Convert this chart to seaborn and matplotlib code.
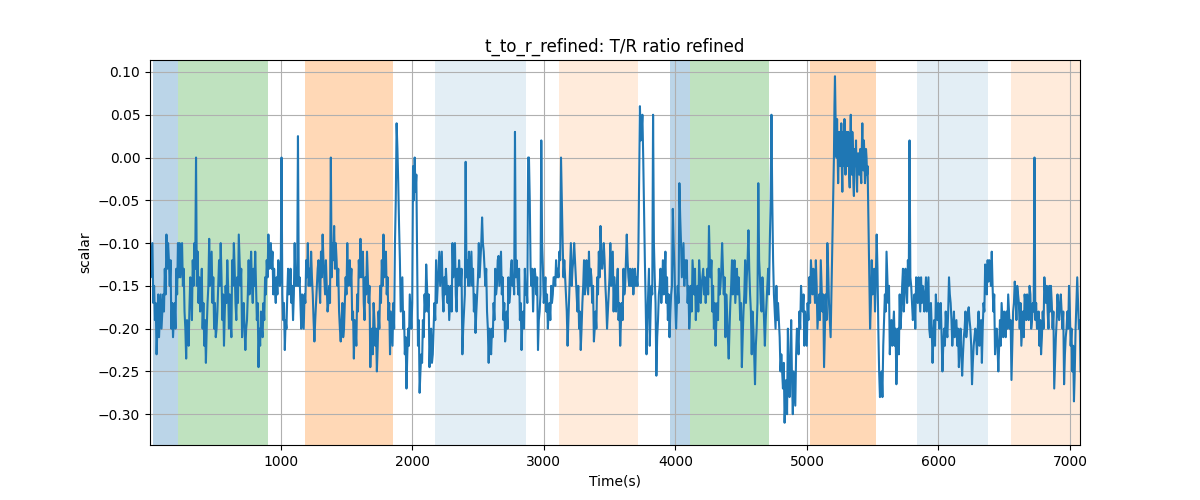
import numpy as np
import pandas as pd
import matplotlib
matplotlib.use("Agg")
import matplotlib.pyplot as plt
import seaborn as sns

# ---- data ----
# segment A: 5 .. 5180 s, main samples every 25 s
t_seg_a = np.arange(5, 5205, 25)
v_seg_a = [
    -0.09, -0.17, -0.23, -0.185, -0.16, -0.09, -0.15, -0.21, -0.13, -0.10,
    -0.15, -0.235, -0.175, -0.12, 0.0, -0.14, -0.2, -0.24, -0.095, -0.17,
    -0.21, -0.12, -0.19, -0.15, -0.2, -0.12, -0.17, -0.09, -0.21, -0.225,
    -0.12, -0.15, -0.11, -0.245, -0.2, -0.14, -0.09, -0.13, -0.155, -0.12,
    0.0, -0.225, -0.13, -0.17, -0.10, 0.025, -0.2, -0.16, -0.1,
    -0.11, -0.215, -0.13, -0.11, -0.14, -0.18, 0.0, -0.08, -0.15, -0.215,
    -0.2, -0.1, -0.15, -0.235, -0.16, -0.095, -0.17, -0.11, -0.245, -0.17,
    -0.25, -0.15, -0.09, -0.16, -0.23, -0.17, 0.04, -0.12, -0.2, -0.27,
    -0.16, -0.01, -0.02, -0.275, -0.19, -0.125, -0.245, -0.23, -0.12, -0.11,
    -0.16, -0.13, -0.19, -0.1, -0.16, -0.12, -0.23, -0.005,
    -0.11, -0.15, -0.205, -0.1, -0.07, -0.15, -0.24, -0.2, -0.13, -0.115,
    -0.16, -0.215, -0.14, -0.12, 0.03, -0.16, -0.225, -0.13, 0.0, -0.15,
    -0.13, -0.225, 0.02, -0.16, -0.2, -0.15, -0.14, -0.13, 0.0, -0.12,
    -0.22, -0.1, -0.1, -0.18, -0.225, -0.12, -0.14, -0.13, -0.215, -0.14,
    -0.08, -0.1, -0.2, -0.1, -0.18, -0.15, -0.22, -0.13, -0.09,
    -0.13, -0.16, -0.14, 0.06, 0.0, -0.23, -0.22, 0.05, -0.255, -0.15,
    -0.12, -0.17, -0.21, -0.06, -0.2, -0.03, -0.12, -0.14, -0.2, -0.12,
    -0.19, -0.12, -0.14, -0.17, -0.08, -0.18, -0.22, -0.13, -0.1, -0.21,
    -0.235, -0.12, -0.17, -0.14, -0.245, -0.12, -0.085, -0.23, -0.265, -0.03,
    -0.18, -0.22, -0.13, 0.05, -0.18, -0.17, -0.23, -0.31, -0.2,
    -0.19, -0.27, -0.21, -0.15, -0.22, -0.17, -0.12, -0.15, -0.2, -0.12,
    -0.245, -0.1, -0.21,
]
# segment A samples at +12.5 s
v_mid_a = [
    -0.12, -0.19, -0.16, -0.2, -0.13, -0.1, -0.2, -0.17, -0.1, -0.12,
    -0.18, -0.2, -0.16, -0.1, -0.11, -0.16, -0.22, -0.17, -0.13, -0.2,
    -0.18, -0.1, -0.22, -0.12, -0.19, -0.1, -0.14, -0.15, -0.17, -0.19,
    -0.14, -0.13, -0.19, -0.22, -0.17, -0.12, -0.11, -0.16, -0.14, -0.15,
    -0.19, -0.2, -0.15, -0.19, -0.13, -0.14, -0.18, -0.12, -0.13, -0.16,
    -0.17, -0.15, -0.09, -0.12, -0.15, -0.1, -0.1, -0.18, -0.17, -0.14,
    -0.13, -0.19, -0.2, -0.12, -0.13, -0.14, -0.17, -0.2, -0.22, -0.18,
    -0.12, -0.12, -0.19, -0.2, -0.1, -0.03, -0.16, -0.23, -0.2, -0.2,
    0.0, -0.22, -0.23, -0.16, -0.18, -0.2, -0.17, -0.15, -0.13, -0.14,
    -0.17, -0.15, -0.12, -0.13, -0.15, -0.18, -0.12, -0.13, -0.18, -0.16,
    -0.12, -0.11, -0.18, -0.22, -0.17, -0.15, -0.13, -0.19, -0.18, -0.16,
    -0.14, -0.12, -0.19, -0.18, -0.15, -0.05, -0.18, -0.16, -0.18, -0.13,
    -0.18, -0.17, -0.16, -0.12, -0.11, -0.1, -0.16, -0.16, -0.13, -0.14,
    -0.2, -0.17, -0.15, -0.11, -0.17, -0.18, -0.11, -0.13, -0.15, -0.16,
    -0.13, -0.16, -0.19, -0.17, -0.15, -0.14, -0.15, -0.13, -0.12, 0.03,
    -0.12, -0.16, -0.15, -0.14, -0.19, -0.17, -0.14, -0.19, -0.16, -0.13,
    -0.15, -0.1, -0.15, -0.17, -0.15, -0.16, -0.15, -0.17, -0.16, -0.13,
    -0.14, -0.2, -0.17, -0.15, -0.16, -0.18, -0.17, -0.15, -0.13, -0.19,
    -0.18, -0.14, -0.16, -0.2, -0.2, -0.14, -0.16, -0.17, -0.1, -0.12,
    -0.15, -0.21, -0.27, -0.26, -0.28, -0.3, -0.23, -0.18, -0.18, -0.2,
    -0.14, -0.16, -0.12, -0.16, -0.18, -0.16, -0.17,
]
# segment A samples at +6.25 s and +18.75 s (one pair per 25 s window)
v_quarter_a = [
    -0.14, -0.1, -0.15, -0.17, -0.2, -0.21, -0.16, -0.18, -0.18, -0.16,
    -0.13, -0.12, -0.12, -0.17, -0.19, -0.2, -0.16, -0.14, -0.14, -0.1,
    -0.13, -0.2, -0.19, -0.22, -0.14, -0.19, -0.15, -0.13, -0.15, -0.17,
    -0.18, -0.13, -0.17, -0.19, -0.2, -0.15, -0.15, -0.11, -0.14, -0.17,
    -0.2, -0.15, -0.15, -0.14, -0.16, -0.18, -0.17, -0.15, -0.16, -0.21,
    -0.15, -0.13, -0.19, -0.17, -0.12, -0.13, -0.18, -0.2, -0.2, -0.16,
    -0.16, -0.11, -0.17, -0.15, -0.15, -0.17, -0.2, -0.18, -0.21, -0.19,
    -0.16, -0.14, -0.13, -0.1, -0.11, -0.13, -0.17, -0.16, -0.13, -0.14,
    -0.16, -0.17, -0.19, -0.16, -0.16, -0.13, -0.15, -0.16, -0.15, -0.15,
    -0.15, -0.17, -0.16, -0.2, -0.17, -0.14, -0.15, -0.15, -0.14, -0.19,
    -0.19, -0.15, -0.12, -0.17, -0.14, -0.12, -0.16, -0.15, -0.17, -0.17,
    -0.14, -0.12, -0.13, -0.12, -0.13, -0.2, -0.19, -0.21, -0.17, -0.16,
    -0.15, -0.12, -0.13, -0.18, -0.19, -0.22, -0.18, -0.14, -0.14, -0.11,
    -0.19, -0.16, -0.14, -0.15, -0.21, -0.23, -0.19, -0.2, -0.22, -0.2,
    -0.17, -0.15, -0.14, -0.11, -0.14, -0.17, -0.18, -0.22, -0.2, -0.05,
    0.01, -0.08, -0.18, -0.14, -0.18, -0.21, -0.23, -0.22, -0.18, -0.17,
    -0.05, -0.04, -0.12, -0.19, -0.25, -0.24, -0.21, -0.18, -0.15, -0.16,
    -0.21, -0.24, -0.2, -0.19, -0.17, -0.13, -0.15, -0.11, -0.18, -0.16,
    -0.15, -0.15, -0.17, -0.18, -0.14, -0.1, -0.18, -0.15, -0.14, -0.13,
    -0.2, -0.16, -0.14, -0.15, -0.15, -0.11, -0.13, -0.16, -0.18, -0.14,
    -0.14, -0.1, -0.1, -0.13, -0.13, -0.2, -0.2, -0.23, -0.21, -0.19,
    -0.16, -0.12, -0.15, -0.11, -0.14, -0.17, -0.2, -0.2, -0.17, -0.13,
    -0.15, -0.16, -0.14, -0.14, -0.13, -0.17, -0.19, -0.2, -0.16, -0.17,
    0.0, -0.13, -0.13, -0.15, -0.14, -0.14, -0.19, -0.16, -0.1, -0.17,
    -0.14, -0.16, -0.18, -0.19, -0.17, -0.14, -0.15, -0.14, -0.14, -0.12,
    -0.05, -0.14, -0.14, -0.18, -0.19, -0.13, -0.15, -0.12, -0.12, -0.16,
    -0.15, -0.18, -0.2, -0.15, -0.16, -0.12, -0.16, -0.15, -0.14, -0.15,
    -0.2, -0.2, -0.16, -0.14, -0.11, -0.12, -0.12, -0.17, -0.18, -0.14,
    -0.15, -0.11, -0.14, -0.18, -0.13, -0.17, -0.19, -0.19, -0.16, -0.12,
    -0.12, -0.15, -0.15, -0.13, -0.14, -0.15, -0.15, -0.03, 0.02, 0.05,
    -0.06, -0.17, -0.19, -0.13, -0.18, -0.16, -0.1, -0.17, -0.21, -0.16,
    -0.13, -0.15, -0.16, -0.11, -0.14, -0.16, -0.18, -0.15, -0.1, -0.17,
    -0.17, -0.17, -0.07, -0.14, -0.1, -0.12, -0.12, -0.15, -0.18, -0.18,
    -0.14, -0.13, -0.16, -0.18, -0.14, -0.15, -0.13, -0.14, -0.15, -0.16,
    -0.12, -0.12, -0.15, -0.17, -0.19, -0.19, -0.16, -0.13, -0.13, -0.14,
    -0.16, -0.21, -0.2, -0.15, -0.16, -0.12, -0.15, -0.16, -0.16, -0.17,
    -0.21, -0.16, -0.17, -0.12, -0.13, -0.18, -0.18, -0.23, -0.22, -0.17,
    -0.12, -0.17, -0.14, -0.19, -0.19, -0.15, -0.16, -0.05, -0.05, -0.16,
    -0.2, -0.19, -0.19, -0.25, -0.25, -0.24, -0.28, -0.3, -0.25, -0.24,
    -0.26, -0.25, -0.29, -0.2, -0.23, -0.2, -0.17, -0.16, -0.18, -0.22,
    -0.19, -0.17, -0.14, -0.13, -0.17, -0.15, -0.18, -0.19, -0.15, -0.16,
    -0.2, -0.19, -0.13, -0.19,
]

# dense plateau section: 5205 .. 5461 s every 8 s, plus samples at +4 s
t_seg_band = np.arange(5205, 5469, 8)
v_seg_band = [
    0.0, 0.095, 0.01, 0.045, -0.03, 0.03, -0.01, 0.04, -0.04, 0.02,
    0.045, -0.02, 0.03, -0.01, 0.015, -0.035, 0.05, -0.02, 0.01, -0.045,
    0.0, 0.02, -0.04, 0.005, -0.02, 0.01, -0.03, 0.04, -0.015, 0.0,
    -0.02, 0.0, -0.01,
]
v_mid_band = [
    0.06, 0.05, 0.0, 0.01, 0.0, 0.02, 0.01, -0.01, 0.03, -0.01,
    0.02, 0.01, 0.0, 0.03, -0.02, 0.02, 0.01, 0.03, -0.03, 0.01,
    -0.01, -0.02, 0.0, -0.01, 0.0, -0.02, 0.01, 0.0, 0.02, -0.03,
    0.01, -0.02,
]

# segment C: 5480 .. 7080 s every 25 s
t_seg_c = np.arange(5480, 7081, 25)
v_seg_c = [
    -0.2, -0.15, -0.09, -0.28, -0.22, -0.11, -0.23, -0.2, -0.265, -0.16,
    -0.13, -0.14, 0.02, -0.19, -0.14, -0.16, -0.15, -0.14, -0.2, -0.24,
    -0.16, -0.2,
    -0.25, -0.18, -0.14, -0.22, -0.2, -0.245, -0.255, -0.18, -0.175, -0.265,
    -0.2, -0.18, -0.24, -0.125, -0.145, -0.11, -0.23, -0.25, -0.17, -0.2,
    -0.16, -0.26, -0.145, -0.16, -0.22, -0.16, -0.17, -0.2, 0.0, -0.2,
    -0.23, -0.14, -0.18, -0.15, -0.27, -0.16, -0.16, -0.265, -0.18, -0.22,
    -0.285, -0.14, -0.25,
]
v_mid_c = [
    -0.12, -0.18, -0.2, -0.25, -0.16, -0.17, -0.19, -0.22, -0.2, -0.18,
    -0.16, -0.12, -0.15, -0.16, -0.17, -0.14, -0.18, -0.16, -0.17, -0.19,
    -0.19, -0.17, -0.2, -0.21, -0.17, -0.18, -0.22, -0.2, -0.21, -0.2,
    -0.2, -0.22, -0.23, -0.2, -0.17, -0.16, -0.13, -0.18, -0.2, -0.19,
    -0.21, -0.18, -0.2, -0.18, -0.19, -0.2, -0.18, -0.19, -0.15, -0.17,
    -0.17, -0.22, -0.18, -0.17, -0.15, -0.2, -0.21, -0.19, -0.2, -0.21,
    -0.15, -0.25, -0.2, -0.2,
]
v_quarter_c = [
    -0.17, -0.16, -0.13, -0.14, -0.13, -0.25, -0.26, -0.28, -0.19, -0.18,
    -0.14, -0.15, -0.2, -0.22, -0.18, -0.2, -0.22, -0.23, -0.2, -0.15,
    -0.18, -0.13, -0.17, -0.15, -0.14, -0.17, -0.18, -0.2, -0.16, -0.14,
    -0.18, -0.17, -0.16, -0.16, -0.18, -0.14, -0.21, -0.2, -0.21, -0.22,
    -0.18, -0.17, -0.19, -0.21, -0.22, -0.22, -0.2, -0.18, -0.16, -0.19,
    -0.2, -0.21, -0.19, -0.2, -0.22, -0.23, -0.23, -0.2, -0.21, -0.18,
    -0.19, -0.22, -0.24, -0.21, -0.21, -0.2, -0.22, -0.19, -0.2, -0.18,
    -0.14, -0.12, -0.12, -0.15, -0.15, -0.16, -0.21, -0.22, -0.22, -0.22,
    -0.19, -0.18, -0.21, -0.2, -0.18, -0.19, -0.22, -0.17, -0.16, -0.15,
    -0.17, -0.17, -0.2, -0.21, -0.17, -0.16, -0.19, -0.16, -0.19, -0.18,
    -0.19, -0.2, -0.18, -0.19, -0.21, -0.2, -0.16, -0.15, -0.2, -0.18,
    -0.17, -0.18, -0.24, -0.19, -0.18, -0.17, -0.18, -0.18, -0.23, -0.2,
    -0.2, -0.18, -0.2, -0.22, -0.25, -0.17, -0.17, -0.19,
]

span_starts = [28, 221, 1185, 2170, 3112, 3957, 4109, 5020, 5835, 6550]
span_ends = [221, 901, 1852, 2866, 3718, 4109, 4715, 5523, 6375, 7100]
span_colors = ["tab:blue", "tab:green", "tab:orange", "tab:blue", "tab:orange",
               "tab:blue", "tab:green", "tab:orange", "tab:blue", "tab:orange"]
span_alphas = [0.3, 0.3, 0.3, 0.12, 0.15, 0.3, 0.3, 0.3, 0.12, 0.15]


def quarter_times(t):
    return np.column_stack([t[:-1] + 6.25, t[:-1] + 18.75]).ravel()


time = np.concatenate([
    t_seg_a, t_seg_a[:-1] + 12.5, quarter_times(t_seg_a),
    t_seg_band, t_seg_band[:-1] + 4,
    t_seg_c, t_seg_c[:-1] + 12.5, quarter_times(t_seg_c),
])
values = np.concatenate([
    v_seg_a, v_mid_a, v_quarter_a,
    v_seg_band, v_mid_band,
    v_seg_c, v_mid_c, v_quarter_c,
])
n = min(len(time), len(values))
df = pd.DataFrame({"time": time[:n], "value": values[:n]}).sort_values("time")

fig, ax = plt.subplots(figsize=(12, 5), dpi=100)
for s, e, c, a in zip(span_starts, span_ends, span_colors, span_alphas):
    ax.axvspan(s, e, color=c, alpha=a, lw=0)

sns.lineplot(data=df, x="time", y="value", ax=ax, color="tab:blue",
             linewidth=1.5, estimator=None, sort=True)

ax.set_xlim(5, 7076)
ax.set_ylim(-0.336, 0.114)
ax.grid(True)
ax.set_title("t_to_r_refined: T/R ratio refined")
ax.set_xlabel("Time(s)")
ax.set_ylabel("scalar")
fig.savefig("out.png", dpi=100)
